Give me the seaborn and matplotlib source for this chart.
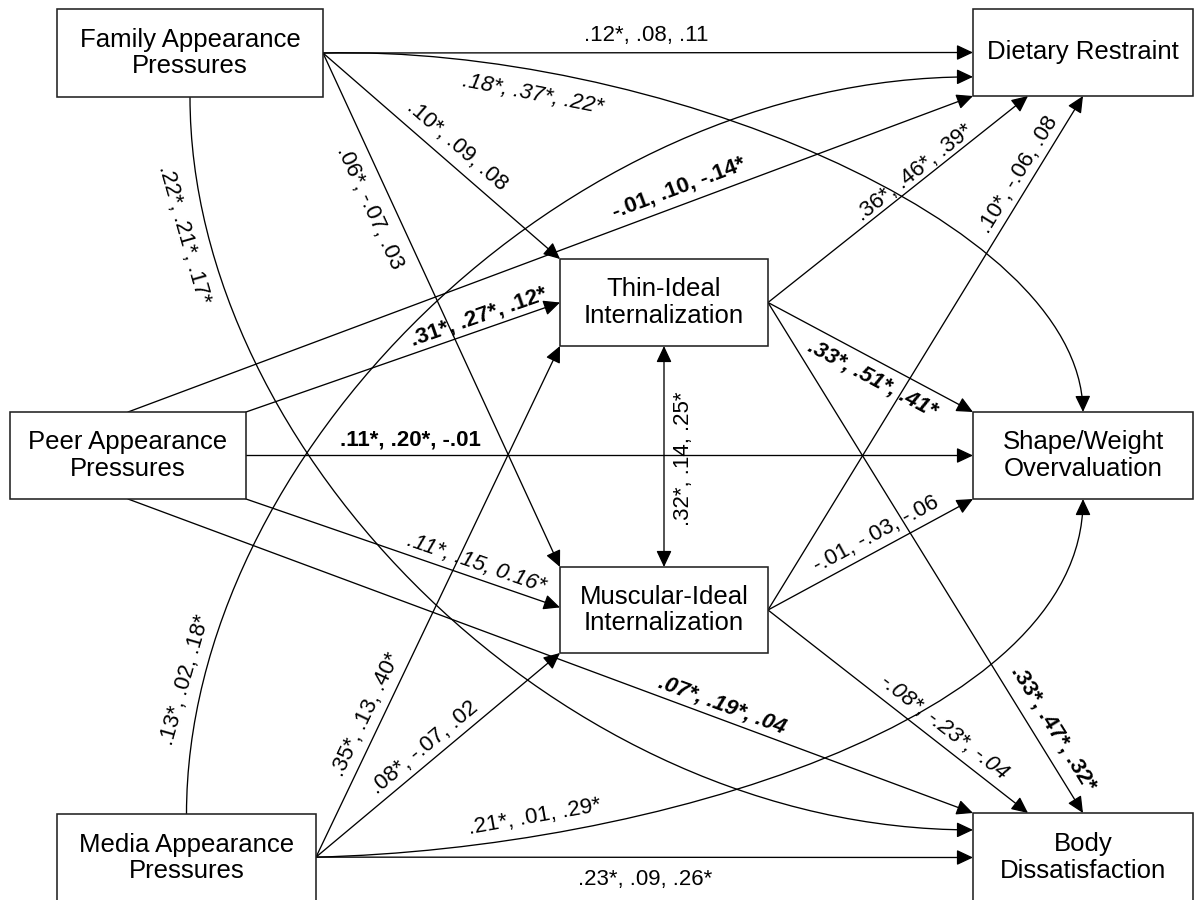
"""
Path model: appearance pressures -> internalization -> eating-disorder outcomes.
Coefficients shown as three comma-separated values per path.
"""

import numpy as np
import seaborn as sns
import matplotlib
matplotlib.use("Agg")
import matplotlib.pyplot as plt
from matplotlib.patches import Rectangle, FancyArrowPatch
from matplotlib.path import Path


# -------------------------
# Data
# -------------------------

node_ids = ["family", "peer", "media", "thin", "muscular",
            "dietary", "shape", "body"]

node_labels = ["Family Appearance\nPressures",
               "Peer Appearance\nPressures",
               "Media Appearance\nPressures",
               "Thin-Ideal\nInternalization",
               "Muscular-Ideal\nInternalization",
               "Dietary Restraint",
               "Shape/Weight\nOvervaluation",
               "Body\nDissatisfaction"]

edge_source = ["family", "family", "family", "family", "family",
               "peer", "peer", "peer", "peer", "peer",
               "media", "media", "media", "media", "media",
               "thin", "thin", "thin",
               "muscular", "muscular", "muscular",
               "thin"]

edge_target = ["dietary", "shape", "thin", "muscular", "body",
               "dietary", "thin", "shape", "muscular", "body",
               "dietary", "thin", "muscular", "shape", "body",
               "dietary", "shape", "body",
               "dietary", "shape", "body",
               "muscular"]

coef_text = [".12*, .08, .11", ".18*, .37*, .22*", ".10*, .09, .08",
             ".06*, -.07, .03", ".22*, .21*, .17*",
             "-.01, .10, -.14*", ".31*, .27*, .12*", ".11*, .20*, -.01",
             ".11*, .15, 0.16*", ".07*, .19*, .04",
             ".13*, .02, .18*", ".35*, .13, .40*", ".08*, -.07, .02",
             ".21*, .01, .29*", ".23*, .09, .26*",
             ".36*, .46*, .39*", ".33*, .51*, .41*", ".33*, .47*, .32*",
             ".10*, -.06, .08", "-.01, -.03, -.06", "-.08*, -.23*, -.04",
             ".32*, .14, .25*"]


# -------------------------
# Layout (pixel space, y down)
# -------------------------

BOXES = {
    "family":   (57, 9, 323, 97),
    "peer":     (10, 412, 246, 499),
    "media":    (57, 814, 316, 902),
    "thin":     (560, 259, 768, 346),
    "muscular": (560, 567, 768, 653),
    "dietary":  (973, 9, 1193, 96),
    "shape":    (973, 412, 1193, 499),
    "body":     (973, 813, 1193, 902),
}

# src anchor, dst anchor, curve handles, label xy, rotation, weight, style
EDGE_LAYOUT = [
    ((1, .5), (0, .5), None, (646, 35), None, "normal", "normal"),
    ((1, .5), (.5, 0), ((327, -8), (-3, -192)), (533, 94), -11, "normal", "italic"),
    ((1, .5), (0, 0), None, (457, 146), None, "normal", "normal"),
    ((1, .5), (0, 0), None, (370, 208), None, "normal", "normal"),
    ((.5, 1), (0, .19), ((0, 353), (-413, 0)), (184, 235), -74, "normal", "normal"),
    ((.5, 0), (0, 1), None, (679, 188), None, "bold", "normal"),
    ((1, 0), (0, .5), None, (479, 317), None, "bold", "normal"),
    ((1, .5), (0, .5), None, (410, 440), None, "bold", "normal"),
    ((1, 1), (0, .47), None, (476, 564), None, "normal", "italic"),
    ((.5, 1), (0, 0), None, (722, 705), None, "bold", "italic"),
    ((.5, 0), (0, .78), ((0, -354), (-413, 0)), (185, 680), 74, "normal", "normal"),
    ((1, .49), (0, 1), None, (366, 715), None, "normal", "normal"),
    ((1, .49), (0, 1), None, (425, 748), None, "normal", "normal"),
    ((1, .49), (.5, 1), ((334, -8), (0, 221)), (535, 817), 10, "normal", "normal"),
    ((1, .49), (0, .5), None, (645, 880), None, "normal", "normal"),
    ((1, .5), (.25, 1), None, (915, 173), None, "normal", "normal"),
    ((1, .5), (0, 0), None, (872, 379), None, "bold", "italic"),
    ((1, .5), (.5, 0), None, (1053, 728), None, "bold", "normal"),
    ((1, .5), (.5, 1), None, (1019, 175), None, "normal", "normal"),
    ((1, .5), (0, 1), None, (876, 534), None, "normal", "normal"),
    ((1, .5), (.25, 0), None, (944, 727), None, "normal", "italic"),
    ((.5, 1), (.5, 0), None, (684, 459), 90, "normal", "normal"),
]

DOUBLE_HEADED = {21}


def anchor(node, frac):
    x0, y0, x1, y1 = BOXES[node]
    return np.array([x0 + frac[0] * (x1 - x0), y0 + frac[1] * (y1 - y0)])


# -------------------------
# Style
# -------------------------

sns.set_style("white")
plt.rcParams['font.family'] = ['Liberation Sans', 'DejaVu Sans']
plt.rcParams['text.color'] = 'black'

fig = plt.figure(figsize=(11.95, 9), dpi=100)
ax = fig.add_axes([0, 0, 1, 1])
ax.set_xlim(0, 1195)
ax.set_ylim(900, 0)
ax.axis("off")

LINE_W = 0.95
HEAD = "-|>,head_length=1.0,head_width=0.47"


# -------------------------
# Boxes
# -------------------------

for node, label in zip(node_ids, node_labels):
    x0, y0, x1, y1 = BOXES[node]
    ax.add_patch(Rectangle((x0, y0), x1 - x0, y1 - y0, facecolor="white",
                           edgecolor="#222222", linewidth=1.15, zorder=3))
    ax.text((x0 + x1) / 2, (y0 + y1) / 2, label, ha="center", va="center",
            fontsize=18.5, linespacing=1.15, color="black", zorder=4)


# -------------------------
# Paths
# -------------------------

for i, (src, dst, text) in enumerate(zip(edge_source, edge_target, coef_text)):
    a_src, a_dst, curve, lxy, rot, weight, style = EDGE_LAYOUT[i]
    p0 = anchor(src, a_src)
    p3 = anchor(dst, a_dst)
    arrowstyle = ("<|-|>,head_length=1.0,head_width=0.47"
                  if i in DOUBLE_HEADED else HEAD)

    if curve is None:
        arrow = FancyArrowPatch(p0, p3, arrowstyle=arrowstyle,
                                mutation_scale=10, shrinkA=0, shrinkB=0,
                                color="black", linewidth=LINE_W, zorder=2)
        if rot is None:
            rot = -np.degrees(np.arctan2(p3[1] - p0[1], p3[0] - p0[0]))
            if rot > 90:
                rot -= 180
            elif rot < -90:
                rot += 180
    else:
        c1 = p0 + np.array(curve[0])
        c2 = p3 + np.array(curve[1])
        path = Path([p0, c1, c2, p3],
                    [Path.MOVETO, Path.CURVE4, Path.CURVE4, Path.CURVE4])
        arrow = FancyArrowPatch(path=path, arrowstyle=arrowstyle,
                                mutation_scale=10, color="black",
                                linewidth=LINE_W, zorder=2)
    ax.add_patch(arrow)

    ax.text(lxy[0], lxy[1], text, rotation=rot, rotation_mode="anchor",
            ha="center", va="center", fontsize=16, fontweight=weight,
            fontstyle=style, color="black", zorder=4)


fig.savefig("out.png", dpi=100)
plt.close(fig)
